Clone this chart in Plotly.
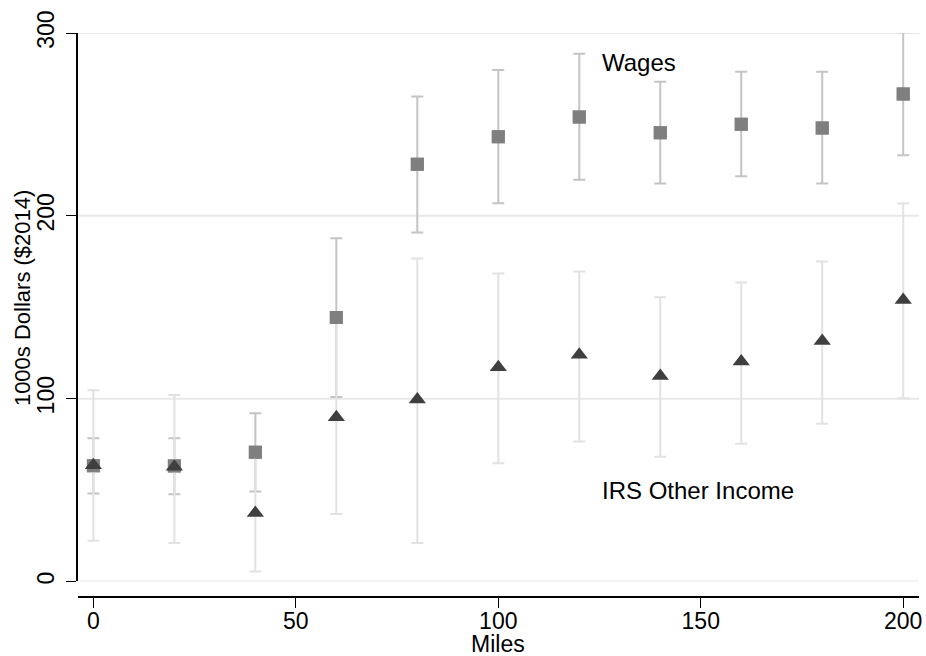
import plotly.graph_objects as go

miles = [0, 20, 40, 60, 80, 100, 120, 140, 160, 180, 200]

wages = [63.3, 63.2, 70.7, 144.4, 228.2, 243.3, 254.1, 245.5, 250.1, 248.1, 266.7]
wages_lo = [48.1, 47.7, 49.2, 100.9, 190.9, 206.9, 219.8, 217.7, 221.6, 217.7, 233.1]
wages_hi = [78.4, 78.4, 92.0, 187.7, 265.3, 279.7, 288.6, 273.3, 278.8, 278.8, 300.4]

irs = [63.6, 62.7, 37.5, 89.8, 99.6, 117.2, 124.0, 112.4, 120.3, 131.5, 154.0]
irs_lo = [22.3, 21.0, 5.5, 36.9, 21.0, 64.7, 76.6, 68.2, 75.3, 86.3, 100.2]
irs_hi = [104.6, 102.0, 69.5, 142.7, 176.6, 168.4, 169.5, 155.4, 163.6, 175.0, 206.8]

y_ticks = [0, 100, 200, 300]
x_ticks = [0, 50, 100, 150, 200]

FONT = "Liberation Sans, Arial, sans-serif"

fig = go.Figure()

# Wages error bars (drawn first)
fig.add_trace(go.Scatter(
    x=miles, y=wages, mode="markers",
    marker=dict(symbol="square", size=13, color="#7f7f7f"),
    error_y=dict(type="data", symmetric=False,
                 array=[h - v for h, v in zip(wages_hi, wages)],
                 arrayminus=[v - l for v, l in zip(wages, wages_lo)],
                 color="#c4c4c4", thickness=2, width=6),
    showlegend=False, hoverinfo="skip",
))

# IRS error bars (above wage bars)
fig.add_trace(go.Scatter(
    x=miles, y=irs, mode="markers",
    marker=dict(symbol="triangle-up", size=15, color="rgba(0,0,0,0)"),
    error_y=dict(type="data", symmetric=False,
                 array=[h - v for h, v in zip(irs_hi, irs)],
                 arrayminus=[v - l for v, l in zip(irs, irs_lo)],
                 color="#e2e2e2", thickness=2, width=6),
    showlegend=False, hoverinfo="skip",
))

# Wage squares on top of IRS bars
fig.add_trace(go.Scatter(
    x=miles, y=wages, mode="markers",
    marker=dict(symbol="square", size=13, color="#7f7f7f"),
    showlegend=False, hoverinfo="skip",
))

# IRS triangles
fig.add_trace(go.Scatter(
    x=miles, y=irs, mode="markers",
    marker=dict(symbol="triangle-up", size=15, color="#3f3f3f"),
    showlegend=False, hoverinfo="skip",
))

# horizontal grid lines at the y ticks
for yt in y_ticks:
    fig.add_shape(type="line", xref="paper", x0=0, x1=1, yref="y", y0=yt, y1=yt,
                  line=dict(color="#e8e8e8", width=2), layer="below")

fig.add_annotation(x=125, y=284, text="Wages", showarrow=False,
                   xanchor="left", yanchor="middle",
                   font=dict(family=FONT, size=24, color="black"))
fig.add_annotation(x=125, y=49.5, text="IRS Other Income", showarrow=False,
                   xanchor="left", yanchor="middle",
                   font=dict(family=FONT, size=24, color="black"))

# axis titles
fig.add_annotation(xref="x", x=100, yref="paper", y=0, yshift=-47,
                   text="Miles", showarrow=False, xanchor="center", yanchor="middle",
                   font=dict(family=FONT, size=23, color="black"))
fig.add_annotation(xref="paper", x=0, xshift=-56, yref="y", y=155,
                   text="1000s Dollars ($2014)", textangle=-90, showarrow=False,
                   xanchor="center", yanchor="middle",
                   font=dict(family=FONT, size=22, color="black"))

fig.update_layout(
    width=926, height=656,
    margin=dict(l=78, r=7, t=33, b=59),
    paper_bgcolor="white", plot_bgcolor="white",
    font=dict(family=FONT, size=23, color="black"),
    xaxis=dict(
        range=[-3.8, 203.9], tickvals=x_ticks, ticktext=[str(t) for t in x_ticks],
        showgrid=False, zeroline=False, automargin=False,
        showline=True, linecolor="black", linewidth=1.5,
        ticks="outside", ticklen=10, tickwidth=1.2, tickcolor="black",
        anchor="free", position=0, ticklabelstandoff=-6,
        tickfont=dict(size=23),
    ),
    yaxis=dict(
        range=[0, 300], tickvals=y_ticks, ticktext=[str(t) for t in y_ticks],
        domain=[0.0275, 1], automargin=False,
        showgrid=False, zeroline=False,
        showline=True, linecolor="black", linewidth=1.5,
        ticks="outside", ticklen=10, tickwidth=1.2, tickcolor="black",
        tickangle=-90, ticklabelstandoff=3,
        tickfont=dict(size=23),
    ),
)

fig.write_html(
    "out.html",
    config={"displayModeBar": False},
    post_script="document.body.style.margin='0';document.body.style.overflow='hidden';",
)
